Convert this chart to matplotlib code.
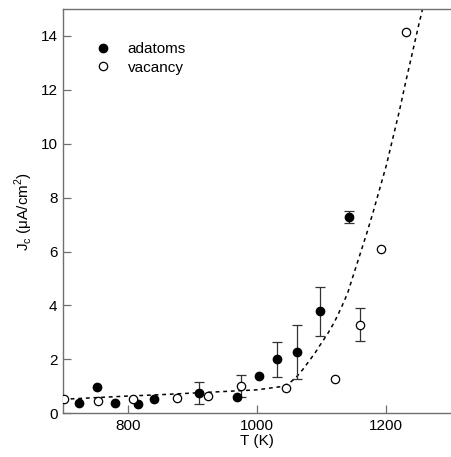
import matplotlib
matplotlib.use("Agg")
import matplotlib.pyplot as plt

# adatoms (filled)
ad_T = [725, 752, 781, 816, 841, 911, 969, 1003, 1031, 1062, 1098, 1143]
ad_J = [0.37, 0.99, 0.40, 0.36, 0.52, 0.76, 0.59, 1.40, 2.00, 2.28, 3.78, 7.29]
ad_err_T = [911, 1031, 1062, 1098, 1143]
ad_err_J = [0.76, 2.00, 2.28, 3.78, 7.29]
ad_err = [0.41, 0.64, 1.00, 0.92, 0.23]

# vacancy (open)
vac_T = [701, 754, 808, 877, 924, 975, 1045, 1121, 1159, 1192, 1231]
vac_J = [0.52, 0.47, 0.53, 0.56, 0.64, 1.01, 0.93, 1.26, 3.28, 6.11, 14.13]
vac_err_T = [975, 1159]
vac_err_J = [1.01, 3.28]
vac_err = [0.40, 0.61]

# dashed guide curve
fit_T = [700, 750, 800, 850, 900, 950, 1000, 1040, 1050, 1060, 1070, 1080, 1090,
         1100, 1110, 1120, 1130, 1140, 1150, 1160, 1170, 1180, 1190, 1200, 1210,
         1220, 1230, 1240, 1250, 1256]
fit_J = [0.52, 0.58, 0.64, 0.69, 0.75, 0.81, 0.87, 1.00, 1.12, 1.32, 1.60, 1.92, 2.25,
         2.62, 2.98, 3.40, 3.90, 4.45, 5.20, 5.95, 6.70, 7.50, 8.35, 9.20, 10.20,
         11.20, 12.30, 13.35, 14.40, 15.00]

plt.rcParams["font.family"] = ["Liberation Sans", "DejaVu Sans"]
plt.rcParams["font.size"] = 11
spine_color = "#707070"

fig = plt.figure(figsize=(4.51, 4.57), dpi=100)
ax = fig.add_axes([63 / 451, 1 - 413.3 / 457, 1 - 63 / 451, (413.3 - 9) / 457])

ax.plot(fit_T, fit_J, color="black", lw=1.1, linestyle=(0, (2.5, 2.5)), zorder=1)

ax.errorbar(ad_err_T, ad_err_J, yerr=ad_err, fmt="none", ecolor="#333333",
            elinewidth=0.9, capsize=3.5, capthick=0.9, zorder=2)
ax.errorbar(vac_err_T, vac_err_J, yerr=vac_err, fmt="none", ecolor="#333333",
            elinewidth=0.9, capsize=3.5, capthick=0.9, zorder=2)

ax.plot(ad_T, ad_J, "o", ms=6, color="black", label="adatoms", zorder=3)
ax.plot(vac_T, vac_J, "o", ms=6, mfc="white", mec="black", mew=0.9,
        label="vacancy", zorder=3)

ax.set_xlim(700, 1300)
ax.set_ylim(0, 15)
ax.set_xticks([800, 1000, 1200])
ax.set_yticks(range(0, 15, 2))
ax.tick_params(direction="in", length=6, width=0.9, color=spine_color, pad=4)

for side in ["left", "bottom", "top"]:
    ax.spines[side].set_color(spine_color)
    ax.spines[side].set_linewidth(1.0)
ax.spines["right"].set_visible(False)

ax.set_xlabel("T (K)", labelpad=1)
ax.set_ylabel(r"J$_\mathregular{c}$ ($\mathregular{\mu}$A/cm$^\mathregular{2}$)", labelpad=4)

ax.legend(loc="upper left", bbox_to_anchor=(0.06, 0.937), frameon=False,
          handlelength=1.2, handletextpad=1.0, labelspacing=0.3, borderpad=0)

fig.savefig("out.png", dpi=100)
